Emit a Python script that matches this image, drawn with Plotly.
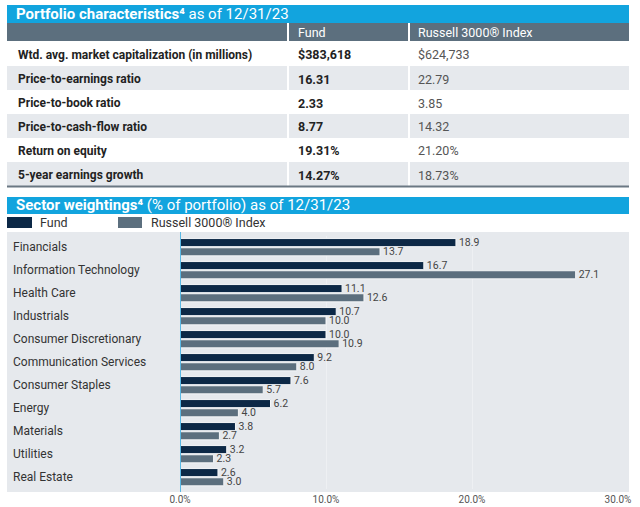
import plotly.graph_objects as go

W, H = 640, 507
def px(x): return x / W
def py(y): return 1 - y / H

FONT = "Roboto, Arial, sans-serif"

# ---- data ----
metrics = ["Wtd. avg. market capitalization (in millions)", "Price-to-earnings ratio",
           "Price-to-book ratio", "Price-to-cash-flow ratio", "Return on equity",
           "5-year earnings growth"]
fund_vals = ["$383,618", "16.31", "2.33", "8.77", "19.31%", "14.27%"]
index_vals = ["$624,733", "22.79", "3.85", "14.32", "21.20%", "18.73%"]
col_headers = ["Fund", "Russell 3000® Index"]

sectors = ["Financials", "Information Technology", "Health Care", "Industrials",
           "Consumer Discretionary", "Communication Services", "Consumer Staples",
           "Energy", "Materials", "Utilities", "Real Estate"]
fund_w = [18.9, 16.7, 11.1, 10.7, 10.0, 9.2, 7.6, 6.2, 3.8, 3.2, 2.6]
index_w = [13.7, 27.1, 12.6, 10.0, 10.9, 8.0, 5.7, 4.0, 2.7, 2.3, 3.0]
series_names = ["Fund", "Russell 3000® Index"]
x_ticks = [0, 10, 20, 30]

NAVY = "#0c2846"
SLATE = "#5c6f7e"
BLUE = "#12a4de"
ROWGRAY = "#e6e9ed"
BG = "#e6e9ed"

fig = go.Figure()
for vals, name, col in ((fund_w, series_names[0], NAVY), (index_w, series_names[1], SLATE)):
    fig.add_trace(go.Bar(y=sectors, x=vals, orientation="h", name=name,
                         marker=dict(color=col, line=dict(color="#f4f6f8", width=1)),
                         texttemplate="%{x:.1f}", textposition="outside",
                         constraintext="none",
                         textfont=dict(family=FONT, size=10.5, color="#444444"),
                         cliponaxis=False, showlegend=False))

shapes = []
ann = []

def rect(x0, y0, x1, y1, color, layer="below"):
    shapes.append(dict(type="rect", xref="paper", yref="paper",
                       x0=px(x0), x1=px(x1), y0=py(y1), y1=py(y0),
                       fillcolor=color, line=dict(width=0), layer=layer))

def text(x, y, s, size=12, color="#1e1e1e", bold=False, xanchor="left"):
    ann.append(dict(xref="paper", yref="paper", x=px(x), y=py(y),
                    text=("<b>%s</b>" % s) if bold else s, showarrow=False,
                    xanchor=xanchor, yanchor="middle",
                    font=dict(family=FONT, size=size, color=color)))

# ---- table ----
rect(7, 5, 629, 23, BLUE)
text(14, 14, "<b>Portfolio characteristics⁴</b> as of 12/31/23", size=15, color="#ffffff")
rect(7, 23, 629, 41, SLATE)
text(296, 32.5, col_headers[0], size=12.5, color="#ffffff")
text(416, 32.5, col_headers[1], size=12.5, color="#ffffff")

bounds = [41, 66, 90, 114, 138, 162, 186]
for i, m in enumerate(metrics):
    y0, y1 = bounds[i], bounds[i + 1]
    if i % 2 == 1:
        rect(7, y0, 629, y1, ROWGRAY)
    yc = (y0 + y1) / 2 + 1
    text(16, yc, m, size=12, color="#222222", bold=True)
    text(296, yc, fund_vals[i], size=12.5, color="#222222", bold=True)
    text(416, yc, index_vals[i], size=12.5, color="#555555")
for xv in (288, 409):
    shapes.append(dict(type="line", xref="paper", yref="paper",
                       x0=px(xv), x1=px(xv), y0=py(23), y1=py(186),
                       line=dict(color="#ffffff", width=2), layer="below"))
shapes.append(dict(type="line", xref="paper", yref="paper",
                   x0=px(7), x1=px(629), y0=py(186.5), y1=py(186.5),
                   line=dict(color="#6b7883", width=2), layer="below"))

# ---- sector header + legend ----
rect(7, 197, 629, 214, BLUE)
text(14, 205.5, "<b>Sector weightings⁴</b> (% of portfolio) as of 12/31/23", size=15, color="#ffffff")
rect(7, 217, 32, 228, NAVY)
text(38, 222.5, series_names[0], size=12.5, color="#333333")
rect(118, 217, 142, 228, SLATE)
text(149, 222.5, series_names[1], size=12.5, color="#333333")

# plot background
rect(7, 232, 629, 492, BG)
# zero line
shapes.append(dict(type="line", xref="x", yref="paper", x0=0, x1=0,
                   y0=py(492), y1=py(232), line=dict(color="#5ab8e4", width=2), layer="above"))

# category labels
for s in sectors:
    ann.append(dict(xref="paper", yref="y", x=px(11), y=s, text=s, showarrow=False,
                    xanchor="left", yanchor="middle",
                    font=dict(family=FONT, size=12, color="#333333")))

fig.update_layout(
    autosize=True, margin=dict(l=0, r=0, t=0, b=0, pad=0),
    paper_bgcolor="#ffffff", plot_bgcolor="rgba(0,0,0,0)",
    barmode="group", bargap=0.2, bargroupgap=0.12,
    shapes=shapes, annotations=ann, showlegend=False,
    xaxis=dict(domain=[px(180), px(618)], range=[0, 30], tickvals=x_ticks,
               ticktext=["%.1f%%" % v for v in x_ticks], showgrid=True,
               gridcolor="#eef0f3", gridwidth=1, zeroline=False, showline=False,
               tickfont=dict(family=FONT, size=10, color="#555555"), ticks="",
               anchor="free", position=py(492), automargin=False),
    yaxis=dict(domain=[py(488.7), py(235.7)], categoryorder="array",
               categoryarray=sectors, autorange="reversed", showticklabels=False,
               showgrid=False, zeroline=False, showline=False, ticks="",
               automargin=False),
)
fig.write_html(
    "out.html",
    default_width="100vw", default_height="100vh",
    config={"displayModeBar": False, "responsive": True},
    post_script=("document.documentElement.style.margin='0';"
                 "document.body.style.margin='0';document.body.style.overflow='hidden';"
                 "Plotly.Plots.resize(document.getElementById('{plot_id}'));"),
)
